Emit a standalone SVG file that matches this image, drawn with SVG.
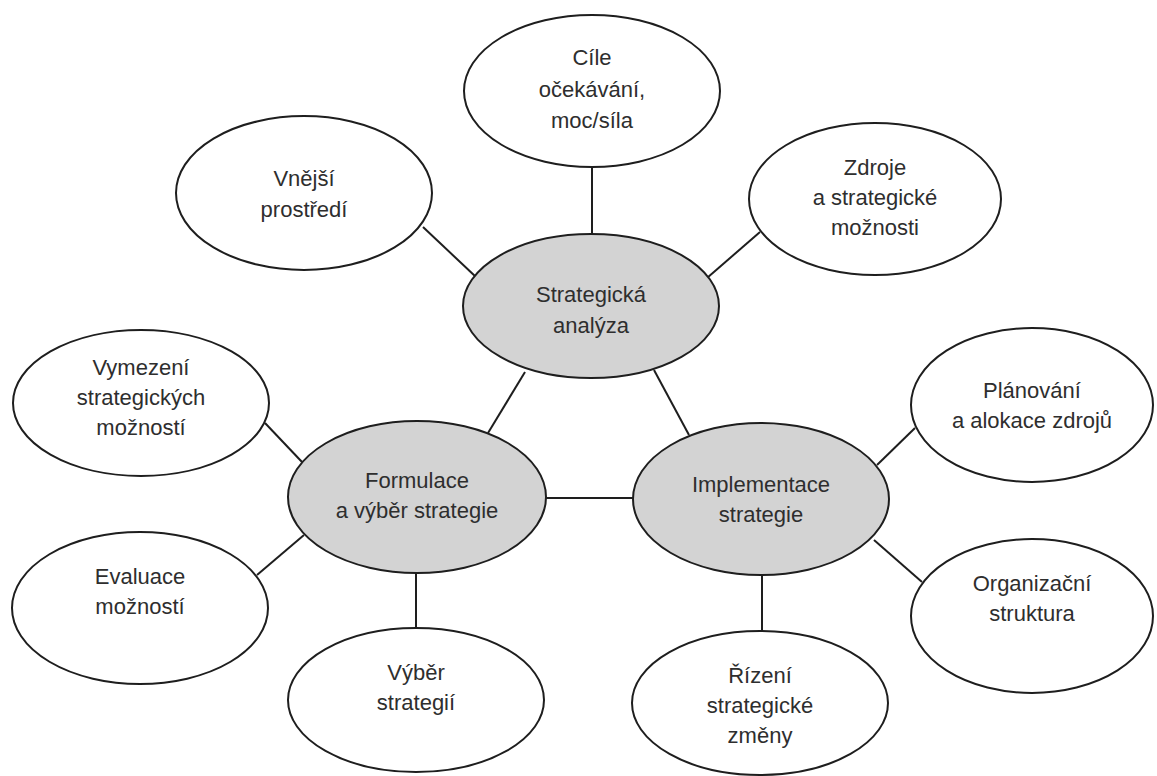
<svg xmlns="http://www.w3.org/2000/svg" width="1157" height="776" viewBox="0 0 1157 776">
<style>
  .n { fill: #ffffff; stroke: #1e1e1e; stroke-width: 2; }
  .c { fill: #d3d3d3; stroke: #1e1e1e; stroke-width: 2; }
  .t { font-family: "Liberation Sans", Arial, sans-serif; font-size: 22px; fill: #2e2e2e; text-anchor: middle; }
  .e line { stroke: #1e1e1e; stroke-width: 2; }
</style>
<rect width="1157" height="776" fill="#ffffff"/>
<g class="e" id="connectors">
  <line x1="592" y1="167" x2="592" y2="235"/>
  <line x1="423" y1="227" x2="476" y2="277"/>
  <line x1="760" y1="232" x2="707" y2="278"/>
  <line x1="525" y1="372" x2="488" y2="433"/>
  <line x1="654" y1="370" x2="689" y2="435"/>
  <line x1="546" y1="498" x2="633" y2="498"/>
  <line x1="265" y1="423" x2="302" y2="462"/>
  <line x1="257" y1="575" x2="304" y2="535"/>
  <line x1="416" y1="573" x2="416" y2="628"/>
  <line x1="877" y1="465" x2="915" y2="428"/>
  <line x1="874" y1="540" x2="922" y2="582"/>
  <line x1="762" y1="575" x2="762" y2="631"/>
</g>
<g id="cile">
  <ellipse class="n" cx="592" cy="91" rx="128" ry="76"/>
  <text class="t" x="592" y="65">Cíle</text>
  <text class="t" x="592" y="97">očekávání,</text>
  <text class="t" x="592" y="128">moc/síla</text>
</g>
<g id="vnejsi">
  <ellipse class="n" cx="304" cy="193" rx="128" ry="77"/>
  <text class="t" x="304" y="186">Vnější</text>
  <text class="t" x="304" y="217">prostředí</text>
</g>
<g id="zdroje">
  <ellipse class="n" cx="875" cy="199" rx="126" ry="76"/>
  <text class="t" x="875" y="175">Zdroje</text>
  <text class="t" x="875" y="205">a strategické</text>
  <text class="t" x="875" y="235">možnosti</text>
</g>
<g id="analyza">
  <ellipse class="c" cx="591" cy="306" rx="128" ry="72"/>
  <text class="t" x="591" y="302">Strategická</text>
  <text class="t" x="591" y="333">analýza</text>
</g>
<g id="vymezeni">
  <ellipse class="n" cx="141" cy="403" rx="128" ry="73"/>
  <text class="t" x="141" y="375">Vymezení</text>
  <text class="t" x="141" y="405">strategických</text>
  <text class="t" x="141" y="435">možností</text>
</g>
<g id="formulace">
  <ellipse class="c" cx="417" cy="497" rx="129" ry="76"/>
  <text class="t" x="417" y="488">Formulace</text>
  <text class="t" x="417" y="518">a výběr strategie</text>
</g>
<g id="implementace">
  <ellipse class="c" cx="761" cy="499" rx="128" ry="76"/>
  <text class="t" x="761" y="492">Implementace</text>
  <text class="t" x="761" y="522">strategie</text>
</g>
<g id="planovani">
  <ellipse class="n" cx="1032" cy="405" rx="121" ry="77"/>
  <text class="t" x="1032" y="398">Plánování</text>
  <text class="t" x="1032" y="428">a alokace zdrojů</text>
</g>
<g id="organizacni">
  <ellipse class="n" cx="1032" cy="616" rx="121" ry="77"/>
  <text class="t" x="1032" y="591">Organizační</text>
  <text class="t" x="1032" y="621">struktura</text>
</g>
<g id="evaluace">
  <ellipse class="n" cx="140" cy="608" rx="128" ry="76"/>
  <text class="t" x="140" y="584">Evaluace</text>
  <text class="t" x="140" y="614">možností</text>
</g>
<g id="vyber">
  <ellipse class="n" cx="416" cy="700" rx="128" ry="72"/>
  <text class="t" x="416" y="680">Výběr</text>
  <text class="t" x="416" y="710">strategií</text>
</g>
<g id="rizeni">
  <ellipse class="n" cx="760" cy="703" rx="128" ry="72"/>
  <text class="t" x="760" y="683">Řízení</text>
  <text class="t" x="760" y="713">strategické</text>
  <text class="t" x="760" y="743">změny</text>
</g>
</svg>
